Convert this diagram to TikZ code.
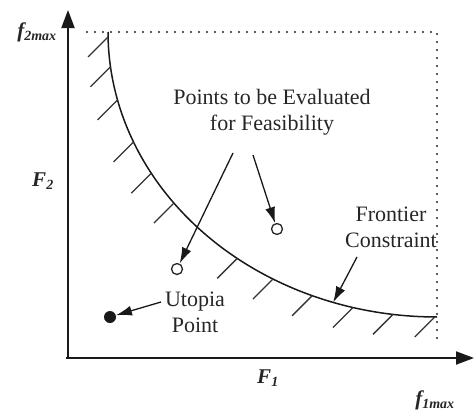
\documentclass[tikz,border=0pt]{standalone}
\usepackage{fontspec}
\setmainfont{Liberation Serif}
\usetikzlibrary{arrows.meta}
\begin{document}
\begin{tikzpicture}[x=1pt,y=-1pt,
  axisline/.style={line width=2pt,black!90,-{Triangle[length=18pt,width=13pt]}},
  dotline/.style={line width=2.2pt,dash pattern=on 0pt off 8pt,line cap=round,black!85},
  hatchline/.style={line width=1.3pt,black!80},
  frontier/.style={line width=1.5pt,black!90},
  note/.style={line width=1.3pt,black!90,-{Latex[length=16pt,width=10pt]}},
  lbl/.style={font=\fontsize{22}{26}\selectfont,text=black!85,align=center,inner sep=0pt},
  axlbl/.style={font=\fontsize{21}{24}\selectfont\bfseries\itshape,text=black!85,inner sep=0pt},
  openpt/.style={circle,draw,line width=1.3pt,minimum size=11pt,inner sep=0pt,black!85},
  fullpt/.style={circle,fill,minimum size=12pt,inner sep=0pt,black!90}
]
\useasboundingbox (0,0) rectangle (474,410);
% axes
\coordinate (O) at (68,358);
\coordinate (ytop) at (68,10);
\coordinate (xorg) at (66,358);
\coordinate (xend) at (474,358);
\draw[axisline] (O) -- (ytop);
\draw[axisline] (xorg) -- (xend);
% dotted bounds
\coordinate (dtl) at (87,32);
\coordinate (dtr) at (437,32);
\coordinate (dbr) at (437,338);
\draw[dotline] (dtl) -- (dtr) -- (dbr);
% frontier (quarter ellipse)
\draw[frontier] plot[domain=0:90,samples=80,smooth] ({437-329*cos(\x)},{32+285*sin(\x)});
% hatches
\foreach \t in {1,7,13.8,22.7,29.7,36.9,52.6,60.1,67.7,75.2,82.3,89.6}{
  \coordinate (hs) at ({437-329*cos(\t)},{32+285*sin(\t)});
  \draw[hatchline] (hs) -- ++(-20,20);
}
\coordinate (fc) at ({437-329*cos(71.6)},{32+285*sin(71.6)});
% points
\node[openpt] (pt1) at (277,229) {};
\node[openpt] (pt2) at (177,269) {};
\node[fullpt] (utop) at (110,317) {};
% labels
\node[lbl] (pts) at (272,112) {Points to be Evaluated\\for Feasibility};
\node[lbl] (uto) at (195,312) {Utopia\\Point};
\node[lbl] (fro) at (391,227) {Frontier\\Constraint};
\node[axlbl] (f2) at (37,32) {f\textsubscript{\fontsize{14}{14}\selectfont 2max}};
\node[axlbl] (F2) at (43,181) {F\textsubscript{\fontsize{14}{14}\selectfont 2}};
\node[axlbl] (F1) at (268,378) {F\textsubscript{\fontsize{14}{14}\selectfont 1}};
\node[axlbl] (f1) at (435,400) {f\textsubscript{\fontsize{14}{14}\selectfont 1max}};
% arrows
\coordinate (a1s) at (253,155);
\coordinate (a2s) at (233,153);
\coordinate (a3s) at (161,302);
\coordinate (a4s) at (357,257);
\draw[note] (a1s) -- (pt1);
\draw[note] (a2s) -- (pt2);
\draw[note] (a3s) -- (utop);
\draw[note] (a4s) -- (fc);
\end{tikzpicture}
\end{document}
